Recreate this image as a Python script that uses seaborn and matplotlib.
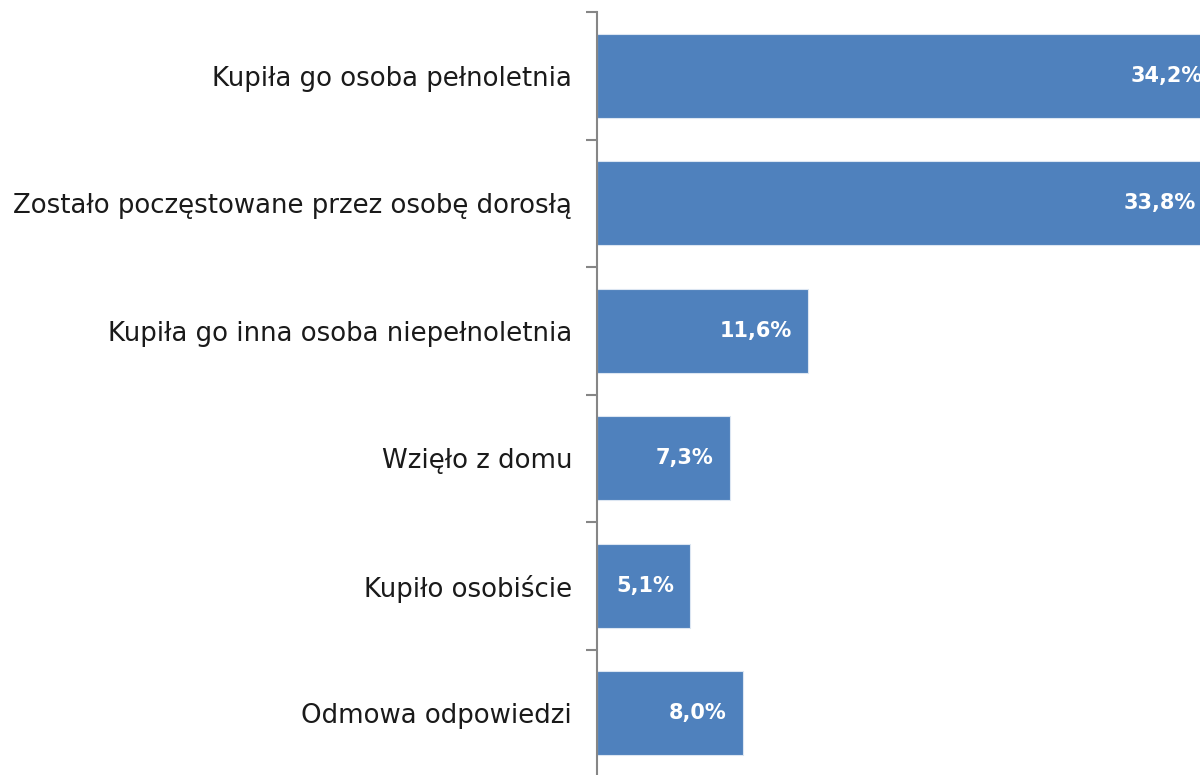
import matplotlib
import pandas as pd

matplotlib.use("Agg")
import matplotlib.pyplot as plt
import seaborn as sns

categories = [
    "Kupiła go osoba pełnoletnia",
    "Zostało poczęstowane przez osobę dorosłą",
    "Kupiła go inna osoba niepełnoletnia",
    "Wzięło z domu",
    "Kupiło osobiście",
    "Odmowa odpowiedzi",
]
values = [34.2, 33.8, 11.6, 7.3, 5.1, 8.0]
value_labels = ["34,2%", "33,8%", "11,6%", "7,3%", "5,1%", "8,0%"]

df = pd.DataFrame({"category": categories, "value": values})

sns.set_style("white")
plt.rcParams["font.family"] = ["DejaVu Sans"]

fig = plt.figure(figsize=(12, 7.75), dpi=100)
ax = fig.add_axes([0.4975, -0.0026, 0.5025, 0.9871])

sns.barplot(data=df, x="value", y="category", color="#4F81BD", saturation=1,
            width=0.66, edgecolor="#dce6f2", linewidth=0.8, ax=ax)

ax.set_xlim(0, 33.15)
ax.set_ylim(5.5, -0.5)
ax.set_xlabel("")
ax.set_ylabel("")
ax.set_xticks([])

# ticks sit between categories, labels sit on the categories
ax.set_yticks([i - 0.5 for i in range(len(categories) + 1)], minor=False)
ax.set_yticklabels([])
ax.set_yticks(range(len(categories)), minor=True)
ax.set_yticklabels(categories, minor=True, fontsize=18.7, color="#1a1a1a")
ax.tick_params(axis="y", which="major", length=8, width=1.5, color="#868686", left=True)
ax.tick_params(axis="y", which="minor", length=0, pad=18)

for side in ["top", "right", "bottom"]:
    ax.spines[side].set_visible(False)
ax.spines["left"].set_color("#868686")
ax.spines["left"].set_linewidth(1.5)

for i, (v, lab) in enumerate(zip(values, value_labels)):
    ax.annotate(lab, xy=(v, i), xytext=(-16, 0), textcoords="offset pixels",
                ha="right", va="center", color="white", fontsize=15,
                fontweight="bold", annotation_clip=False)

fig.savefig("out.png", dpi=100)
